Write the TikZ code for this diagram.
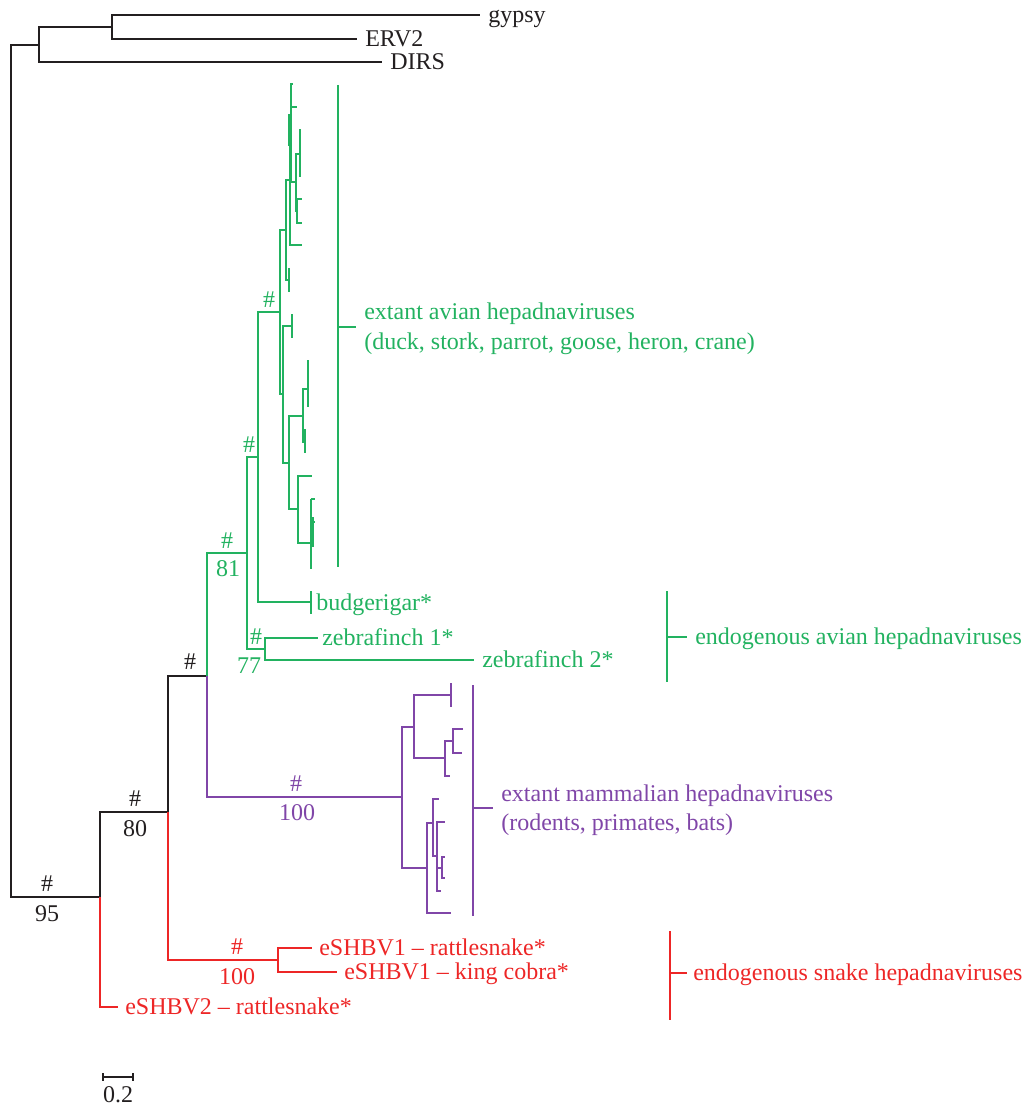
\documentclass[tikz,border=0pt]{standalone}
\usepackage{fontspec}
\setmainfont{Liberation Serif}
\definecolor{cg}{RGB}{34,178,96}
\definecolor{cp}{RGB}{128,70,168}
\definecolor{cr}{RGB}{237,38,38}
\definecolor{ck}{RGB}{35,31,32}
\begin{document}
\begin{tikzpicture}[x=0.75pt,y=-0.75pt,
  br/.style={line width=1.3pt},
  thick tip/.style={line width=2.4pt},
  bar/.style={line width=2.2pt},
  lab/.style={font=\fontsize{18}{20}\selectfont, inner sep=0pt, anchor=base west},
  sh/.style={font=\fontsize{18}{20}\selectfont, inner sep=0pt, anchor=south},
  sn/.style={font=\fontsize{18}{20}\selectfont, inner sep=0pt, anchor=north}]
\useasboundingbox (0,0) rectangle (1025,1106);

% ---------- black tree ----------
\coordinate (R) at (11,471);
\coordinate (O) at (39,45);
\coordinate (O2) at (112,27);
\coordinate (tgy) at (480,15);
\coordinate (terv) at (357,39);
\coordinate (tdirs) at (382,62);
\coordinate (I) at (100,897);
\coordinate (N80) at (168,812);
\coordinate (Ncore) at (207,676);
\begin{scope}[draw=ck, br]
\draw (R) |- (O);
\draw (R) |- (I);
\draw (O) |- (O2);
\draw (O) |- (tdirs);
\draw (O2) |- (tgy);
\draw (O2) |- (terv);
\draw (I) |- (N80);
\draw (N80) |- (Ncore);
\end{scope}
\node[lab, text=ck] (lgy) at (488,22.5) {gypsy};
\node[lab, text=ck] (lerv) at (365,46.5) {ERV2};
\node[lab, text=ck] (ldirs) at (390,69.5) {DIRS};
\node[sh, text=ck] (h95) at (47,892) {\#};
\node[sn, text=ck] (n95) at (47,905) {95};
\node[sh, text=ck] (h80) at (135,807) {\#};
\node[sn, text=ck] (n80) at (135,820) {80};
\node[sh, text=ck] (hcore) at (190,670) {\#};

% ---------- red ----------
\coordinate (tE2) at (118,1007);
\coordinate (Nsn) at (278,960);
\coordinate (tE1r) at (312,948);
\coordinate (tE1k) at (337,972);
\begin{scope}[draw=cr, br]
\draw (I) |- (tE2);
\draw (N80) |- (Nsn);
\draw (Nsn) |- (tE1r);
\draw (Nsn) |- (tE1k);
\end{scope}
\node[lab, text=cr] (lE1r) at (319,955.5) {eSHBV1 – rattlesnake*};
\node[lab, text=cr] (lE1k) at (344,979.5) {eSHBV1 – king cobra*};
\node[lab, text=cr] (lE2) at (125,1014.5) {eSHBV2 – rattlesnake*};
\node[sh, text=cr] (hsn) at (237,955) {\#};
\node[sn, text=cr] (nsn) at (237,968) {100};
\coordinate (rb1) at (670,931);
\coordinate (rb2) at (670,1020);
\coordinate (rbm) at (670,973);
\coordinate (rbt) at (687,973);
\draw[bar, cr] (rb1) -- (rb2);
\draw[bar, cr] (rbm) -- (rbt);
\node[lab, text=cr] (lsnake) at (693,980) {endogenous snake hepadnaviruses};

% ---------- green ----------
\coordinate (Ng) at (247,553);
\coordinate (N259) at (258,457);
\coordinate (N77) at (265,649);
\coordinate (tzf1) at (318,638);
\coordinate (tzf2) at (474,660);
\coordinate (tbud) at (311,602);
\coordinate (Nup) at (280,312);
\coordinate (NA) at (286,230);
\coordinate (NB) at (283,394);
\coordinate (NG) at (290,180);
\coordinate (NH) at (289,280);
\coordinate (NGa) at (291,133);
\coordinate (tg1) at (293,84);
\coordinate (tg2) at (297,107);
\coordinate (ND) at (296,182);
\coordinate (NE) at (300,154);
\coordinate (NF) at (297,211);
\coordinate (tg3) at (302,199);
\coordinate (tg4) at (302,223);
\coordinate (tg5) at (302,245);
\coordinate (NI) at (292,326);
\coordinate (NJ) at (289,463);
\coordinate (NK) at (303,416);
\coordinate (NL) at (298,509);
\coordinate (NM) at (308,389);
\coordinate (NN) at (305,442);
\coordinate (tg6) at (312,476);
\coordinate (NO) at (311,543);
\coordinate (tg7) at (315,499);
\coordinate (tg8) at (315,522);
\begin{scope}[draw=cg, br]
\draw (Ncore) |- (Ng);
\draw (Ng) |- (N259);
\draw (Ng) |- (N77);
\draw (N77) |- (tzf1);
\draw (N77) |- (tzf2);
\draw (N259) |- (tbud);
\draw (tbud) ++(0,-11) -- ++(0,23);
\draw (N259) |- (Nup);
\draw (Nup) |- (NA);
\draw (Nup) |- (NB);
\draw (NA) |- (NG);
\draw (NA) |- (NH);
\draw (NH) ++(0,-12) -- ++(0,24);
\draw (NG) |- (NGa);
\draw (NG) |- (tg5);
\draw (NGa) |- (tg1);
\draw (NGa) |- (tg2);
\draw (NGa) |- (ND);
\draw (ND) |- (NE);
\draw (ND) |- (NF);
\draw (NE) ++(0,-25) -- ++(0,48);
\draw (NF) |- (tg3);
\draw (NF) |- (tg4);
\draw (NB) |- (NI);
\draw (NI) ++(0,-12) -- ++(0,24);
\draw (NB) |- (NJ);
\draw (NJ) |- (NK);
\draw (NJ) |- (NL);
\draw (NK) |- (NM);
\draw (NK) |- (NN);
\draw (NM) ++(0,-29) -- ++(0,47);
\draw (NN) ++(0,-13) -- ++(0,24);
\draw (NL) |- (tg6);
\draw (NL) |- (NO);
\draw (NO) ++(0,-44) -- ++(0,70);
\draw (NO) ++(0,-44) -- (tg7);
\draw (NO) ++(0,-21) -- (tg8);
\end{scope}
\draw[thick tip, cg] (290,114) -- (290,146);
\draw[thick tip, cg] (312,517) -- (312,547);
\node[lab, text=cg] (lbud) at (316,610) {budgerigar*};
\node[lab, text=cg] (lzf1) at (322,645.5) {zebrafinch 1*};
\node[lab, text=cg] (lzf2) at (482,667.5) {zebrafinch 2*};
\node[sh, text=cg] (h81) at (227,549) {\#};
\node[sn, text=cg] (n81) at (228,560) {81};
\node[sh, text=cg] (h77) at (256,645) {\#};
\node[sn, text=cg] (n77) at (249,658) {77};
\node[sh, text=cg] (h259) at (249,453) {\#};
\node[sh, text=cg] (hup) at (269,308) {\#};
\coordinate (gb1) at (338,85);
\coordinate (gb2) at (338,567);
\coordinate (gbm) at (338,327);
\coordinate (gbt) at (356,327);
\draw[bar, cg] (gb1) -- (gb2);
\draw[bar, cg] (gbm) -- (gbt);
\node[lab, text=cg] (lav1) at (364,319) {extant avian hepadnaviruses};
\node[lab, text=cg] (lav2) at (364,349) {(duck, stork, parrot, goose, heron, crane)};
\coordinate (eb1) at (667,591);
\coordinate (eb2) at (667,682);
\coordinate (ebm) at (667,637);
\coordinate (ebt) at (687,637);
\draw[bar, cg] (eb1) -- (eb2);
\draw[bar, cg] (ebm) -- (ebt);
\node[lab, text=cg] (lendav) at (695,644) {endogenous avian hepadnaviruses};

% ---------- purple ----------
\coordinate (Np) at (402,797);
\coordinate (P1) at (414,727);
\coordinate (P2) at (427,868);
\coordinate (P1a) at (451,695);
\coordinate (P3) at (445,758);
\coordinate (P4) at (453,741);
\coordinate (tp1) at (450,776);
\coordinate (tp2) at (463,729);
\coordinate (tp3) at (462,753);
\coordinate (P5) at (433,823);
\coordinate (tp4) at (451,913);
\coordinate (tp5) at (439,799);
\coordinate (P6) at (437,856);
\coordinate (tp6) at (445,822);
\coordinate (P7) at (442,868);
\coordinate (tp7) at (441,891);
\coordinate (tp8) at (445,857);
\coordinate (tp9) at (445,878);
\begin{scope}[draw=cp, br]
\draw (Ncore) |- (Np);
\draw (Np) |- (P1);
\draw (Np) |- (P2);
\draw (P1) |- (P1a);
\draw (P1a) ++(0,-12) -- ++(0,24);
\draw (P1) |- (P3);
\draw (P3) |- (P4);
\draw (P3) |- (tp1);
\draw (P4) |- (tp2);
\draw (P4) |- (tp3);
\draw (P2) |- (P5);
\draw (P2) |- (tp4);
\draw (P5) |- (tp5);
\draw (P5) |- (P6);
\draw (P6) |- (tp6);
\draw (P6) |- (P7);
\draw (P6) |- (tp7);
\draw (P7) |- (tp8);
\draw (P7) |- (tp9);
\end{scope}
\node[sh, text=cp] (hp) at (296,792) {\#};
\node[sn, text=cp] (np) at (297,804) {100};
\coordinate (pb1) at (473,685);
\coordinate (pb2) at (473,916);
\coordinate (pbm) at (473,808);
\coordinate (pbt) at (493,808);
\draw[bar, cp] (pb1) -- (pb2);
\draw[bar, cp] (pbm) -- (pbt);
\node[lab, text=cp] (lmam1) at (501,801) {extant mammalian hepadnaviruses};
\node[lab, text=cp] (lmam2) at (501,830) {(rodents, primates, bats)};

% ---------- scale ----------
\coordinate (s1) at (103,1077);
\coordinate (s2) at (133,1077);
\draw[draw=ck, br] (s1) -- (s2);
\draw[draw=ck, br] (103,1073) -- (103,1081);
\draw[draw=ck, br] (133,1073) -- (133,1081);
\node[sn, text=ck] (lscale) at (118,1086) {0.2};
\end{tikzpicture}
\end{document}
